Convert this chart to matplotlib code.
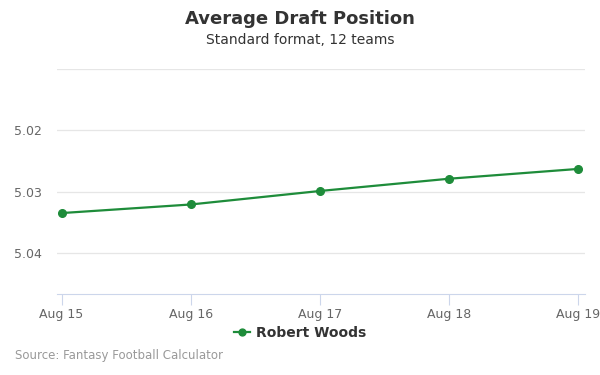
import matplotlib
matplotlib.use("Agg")
import matplotlib.pyplot as plt

# --- Data ---
dates = ["Aug 15", "Aug 16", "Aug 17", "Aug 18", "Aug 19"]
adp = [5.0335, 5.0321, 5.0299, 5.0279, 5.0263]
player = "Robert Woods"
yticks = [5.01, 5.02, 5.03, 5.04]

green = "#1e8c3a"
grid_col = "#e6e6e6"
axis_col = "#ccd6eb"

fig = plt.figure(figsize=(6, 3.75), dpi=100)
ax = fig.add_axes([0.095, 0.216, 0.88, 0.6])

x = list(range(len(dates)))
ax.plot(x, adp, color=green, lw=1.6, marker="o", ms=5.5, label=player)

ax.set_xlim(-0.035, 4.054)
ax.set_ylim(5.0467, 5.01)
ax.set_yticks(yticks)
ax.set_yticklabels(["", "5.02", "5.03", "5.04"])
ax.set_xticks(x)
ax.set_xticklabels(dates)

ax.grid(axis="y", color=grid_col, lw=0.9)
ax.set_axisbelow(True)
for s in ["top", "right", "left"]:
    ax.spines[s].set_visible(False)
ax.spines["bottom"].set_color(axis_col)
ax.tick_params(axis="y", length=0, pad=11, labelsize=9, labelcolor="#666666")
ax.tick_params(axis="x", length=8, color=axis_col, labelsize=9,
               labelcolor="#666666", pad=2)

# Titles
fig.text(0.5, 0.948, "Average Draft Position", ha="center", va="center",
         fontsize=13, fontweight="bold", color="#333333")
fig.text(0.5, 0.892, "Standard format, 12 teams", ha="center", va="center",
         fontsize=10, color="#333333")

# Legend
leg = fig.legend(loc="center", bbox_to_anchor=(0.5, 0.113), frameon=False,
                 prop={"weight": "bold", "size": 10}, handlelength=1.2,
                 handletextpad=0.4, markerscale=0.9)
for t in leg.get_texts():
    t.set_color("#333333")

fig.text(0.025, 0.051, "Source: Fantasy Football Calculator", ha="left",
         va="center", fontsize=8.5, color="#999999")

fig.savefig("out.png", dpi=100)
